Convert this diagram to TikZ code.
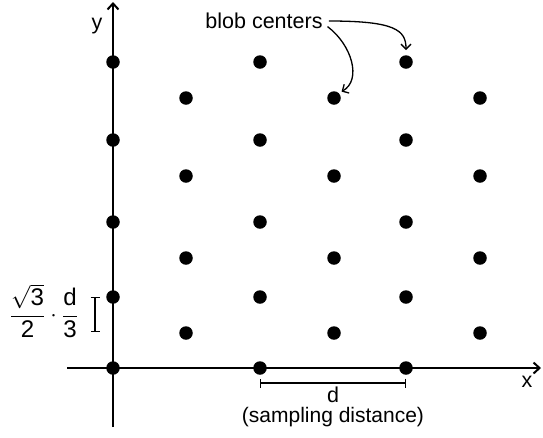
\documentclass[tikz,border=0pt]{standalone}
\usepackage{fontspec}
\setmainfont{Liberation Sans}
\usetikzlibrary{positioning,arrows.meta}

\begin{document}
\begin{tikzpicture}[x=1pt,y=-1pt,
	blob/.style={circle,fill=black,inner sep=0pt,minimum size=13.5pt},
	lbl/.style={inner sep=0pt,font=\fontsize{21.5}{24}\selectfont},
	axis/.style={line width=2pt,-{Straight Barb[length=6pt,width=11pt]}},
	curv/.style={line width=1.3pt,-{Straight Barb[length=5pt,width=10pt]}},
	brace/.style={line width=1.4pt,{Bar[width=9pt]}-{Bar[width=9pt]}}]
			\useasboundingbox (0,0) rectangle (543,437);
% 			axes
			\coordinate (xs) at (67,368);
			\coordinate (xe) at (541,368);
			\coordinate (ys) at (113,427);
			\coordinate (ye) at (113,2);
			\draw[axis] (xs)--(xe);
			\draw[axis] (ys)--(ye);
			\node[lbl] (ylab) at (97,26) {y};
			\node[lbl] (xlab) at (527,382) {x};
% 			blob grid
			\foreach \cx [count=\c] in {113,260,406}
			\foreach \ry [count=\r] in {368,297,222,140,62}
			\node[blob] (a\c\r) at (\cx,\ry) {};
			\foreach \cx [count=\c] in {186,334,480}
			\foreach \ry [count=\r] in {333,258,176,98}
			\node[blob] (b\c\r) at (\cx,\ry) {};
% 			row spacing
			\coordinate (vt) at (95,297);
			\coordinate (vb) at (95,332);
			\draw[brace] (vt)--(vb);
			\node[lbl,scale=1.12] (rowlab) at (44,311) {$\displaystyle\frac{\sqrt{\mbox{3}}}{\mbox{2}}\cdot\frac{\mbox{d}}{\mbox{3}}$};
% 			sampling distance
			\coordinate (hl) at (260,383);
			\coordinate (hr) at (406,383);
			\draw[brace] (hl)--(hr);
			\node[lbl] (dlab) at (333,395) {d};
			\node[lbl,font=\fontsize{21}{24}\selectfont,below=4pt of dlab] (slab) {(sampling distance)};
% 			blob centers
			\node[lbl] (bc) at (264,21) {blob centers};
			\draw[curv,shorten <=6pt,shorten >=5pt] (bc.east) .. controls (395,21) and (406,30) .. (a35.north);
			\draw[curv,shorten <=6pt,shorten >=3pt] ([yshift=-2pt]bc.east) .. controls (352,45) and (362,80) .. (b24.north east);
\end{tikzpicture}
\end{document}
